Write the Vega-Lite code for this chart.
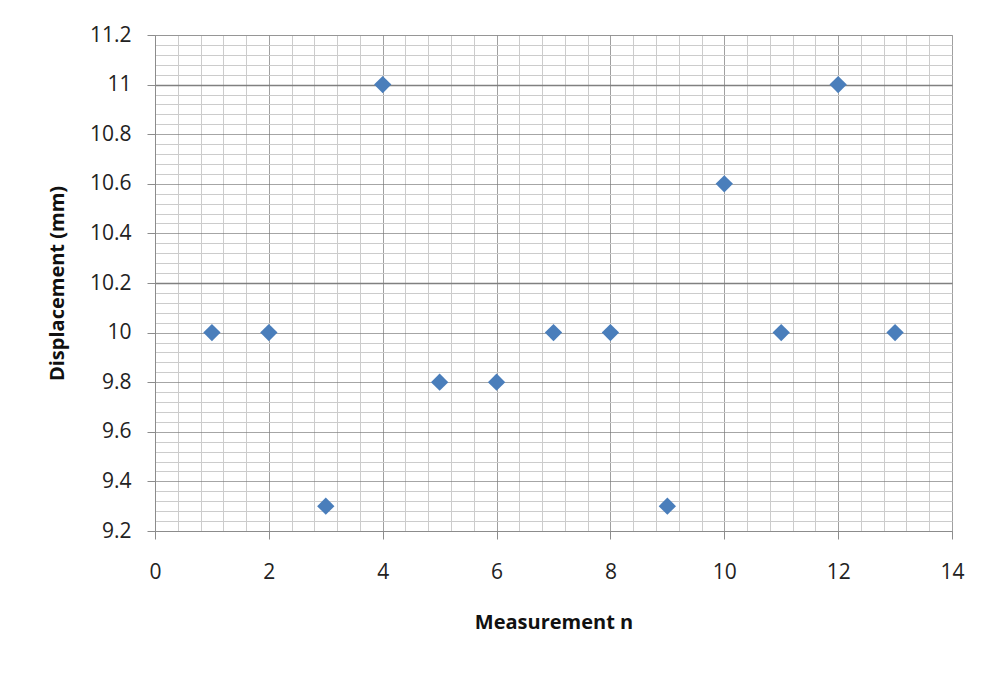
{
  "$schema": "https://vega.github.io/schema/vega-lite/v6.json",
  "width": 797,
  "height": 496,
  "autosize": {"type": "none"},
  "padding": {"left": 155, "top": 35, "right": 48, "bottom": 142},
  "background": "white",
  "config": {
    "view": {"stroke": "#c8c8c8"},
    "axis": {"labelFont": "Open Sans", "titleFont": "Open Sans", "labelFontSize": 21, "titleFontSize": 20, "labelColor": "#222", "titleColor": "#111", "domainColor": "#8c8c8c", "tickColor": "#8c8c8c"}
  },
  "data": {
    "values": [
      {"n": 1, "disp": 10},
      {"n": 2, "disp": 10},
      {"n": 3, "disp": 9.3},
      {"n": 4, "disp": 11},
      {"n": 5, "disp": 9.8},
      {"n": 6, "disp": 9.8},
      {"n": 7, "disp": 10},
      {"n": 8, "disp": 10},
      {"n": 9, "disp": 9.3},
      {"n": 10, "disp": 10.6},
      {"n": 11, "disp": 10},
      {"n": 12, "disp": 11},
      {"n": 13, "disp": 10}
    ]
  },
  "mark": {"type": "point", "shape": "diamond", "filled": true, "size": 300, "color": "#4a7ebb", "opacity": 1},
  "encoding": {
    "x": {
      "field": "n",
      "type": "quantitative",
      "title": "Measurement n",
      "scale": {"domain": [0, 14], "nice": false, "zero": false},
      "axis": {
        "values": [0,0.4,0.8,1.2,1.6,2,2.4,2.8,3.2,3.6,4,4.4,4.8,5.2,5.6,6,6.4,6.8,7.2,7.6,8,8.4,8.8,9.2,9.6,10,10.4,10.8,11.2,11.6,12,12.4,12.8,13.2,13.6,14],
        "labelExpr": "abs(datum.value/2 - round(datum.value/2)) < 0.001 ? format(datum.value, 'd') : ''",
        "labelPadding": 22,
        "tickSize": 8,
        "tickOpacity": {"condition": {"test": "abs(datum.value/2 - round(datum.value/2)) < 0.001", "value": 1}, "value": 0},
        "gridColor": {"condition": {"test": "abs(datum.value/2 - round(datum.value/2)) < 0.001", "value": "#a0a0a0"}, "value": "#cccccc"},
        "titleFontWeight": "bold",
        "titlePadding": 30,
        "labelFlush": false,
        "labelOverlap": false
      }
    },
    "y": {
      "field": "disp",
      "type": "quantitative",
      "title": "Displacement (mm)",
      "scale": {"domain": [9.2, 11.2], "nice": false, "zero": false},
      "axis": {
        "values": [9.2,9.24,9.28,9.32,9.36,9.4,9.44,9.48,9.52,9.56,9.6,9.64,9.68,9.72,9.76,9.8,9.84,9.88,9.92,9.96,10,10.04,10.08,10.12,10.16,10.2,10.24,10.28,10.32,10.36,10.4,10.44,10.48,10.52,10.56,10.6,10.64,10.68,10.72,10.76,10.8,10.84,10.88,10.92,10.96,11,11.04,11.08,11.12,11.16,11.2],
        "labelExpr": "abs(datum.value*5 - round(datum.value*5)) < 0.001 ? format(datum.value, '~g') : ''",
        "labelPadding": 16,
        "tickSize": 8,
        "tickOpacity": {"condition": {"test": "abs(datum.value*5 - round(datum.value*5)) < 0.001", "value": 1}, "value": 0},
        "gridColor": {"condition": {"test": "abs(datum.value*5 - round(datum.value*5)) < 0.001", "value": "#808080"}, "value": "#cccccc"},
        "gridOpacity": {"condition": {"test": "abs(datum.value*5 - round(datum.value*5)) < 0.001 && !(abs(datum.value - 11) < 0.001 || abs(datum.value - 10.2) < 0.001)", "value": 0.7}, "value": 1},
        "gridWidth": {"condition": {"test": "abs(datum.value - 11) < 0.001 || abs(datum.value - 10.2) < 0.001", "value": 1.6}, "value": 1},
        "titleFontWeight": "bold",
        "titlePadding": 22,
        "labelFlush": false,
        "labelOverlap": false
      }
    }
  }
}
